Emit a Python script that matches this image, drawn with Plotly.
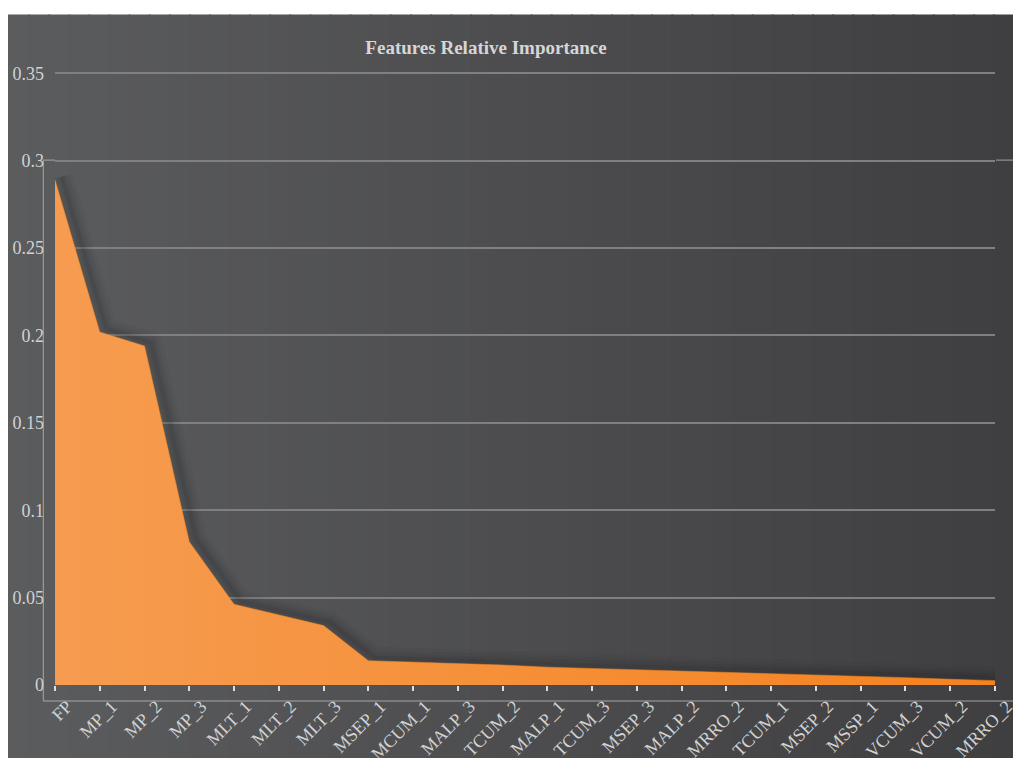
import plotly.graph_objects as go

features = ["FP", "MP_1", "MP_2", "MP_3", "MLT_1", "MLT_2", "MLT_3", "MSEP_1",
            "MCUM_1", "MALP_3", "TCUM_2", "MALP_1", "TCUM_3", "MSEP_3", "MALP_2",
            "MRRO_2", "TCUM_1", "MSEP_2", "MSSP_1", "VCUM_3", "VCUM_2", "MRRO_2"]
importance = [0.289, 0.202, 0.194, 0.0819, 0.0462, 0.0400, 0.0340, 0.0139,
              0.0132, 0.0124, 0.0114, 0.0102, 0.0095, 0.0088, 0.0081,
              0.0074, 0.0066, 0.0058, 0.0050, 0.0042, 0.0033, 0.0025]
y_ticks = [0, 0.05, 0.1, 0.15, 0.2, 0.25, 0.3, 0.35]
y_tick_text = ["0", "0.05", "0.1", "0.15", "0.2", "0.25", "0.3", "0.35"]

W, H = 1013, 758
L, R, B = 55, 995, 685
SCALE = (685 - 73.7) / 0.35
YMAX = 0.353
T = B - SCALE * YMAX
pw, ph = R - L, B - T
NX = len(features) - 1

def px(x):
    return (x - L) / pw

def py(y):
    return (B - y) / ph

idx = list(range(len(features)))

fig = go.Figure()

# soft shadow (drawn on main axes, below the fill which sits on overlay axes)
for w, a in [(22, 0.04), (15, 0.05), (9, 0.07), (4, 0.09)]:
    fig.add_trace(go.Scatter(
        x=idx, y=importance, mode="lines",
        line=dict(color="rgba(25,25,28,%.2f)" % a, width=w), hoverinfo="skip",
        showlegend=False))

fig.add_trace(go.Scatter(
    x=idx, y=importance, mode="lines", fill="tozeroy", xaxis="x2", yaxis="y2",
    line=dict(color="#f5861f", width=0.5),
    fillgradient=dict(type="horizontal",
                      colorscale=[[0, "#f69c50"], [1, "#f5821f"]]),
    showlegend=False))

shapes = []
# background gradient
x0p, x1p = 8, W
n = 50
c0 = (91, 92, 94)
c1 = (63, 62, 64)
for i in range(n):
    t = i / (n - 1)
    c = tuple(int(round(c0[k] + (c1[k] - c0[k]) * t)) for k in range(3))
    xa = x0p + (x1p - x0p) * i / n
    xb = x0p + (x1p - x0p) * (i + 1) / n + 2
    shapes.append(dict(type="rect", xref="paper", yref="paper",
                       x0=px(xa), x1=px(min(xb, W)), y0=py(H), y1=py(15),
                       fillcolor="rgb(%d,%d,%d)" % c, line=dict(width=0),
                       layer="below"))
# offset axis lines
axc = "rgba(175,175,175,0.9)"
shapes.append(dict(type="line", xref="paper", yref="paper",
                   x0=px(43.3), x1=px(43.3), y0=py(160.5), y1=py(701),
                   line=dict(color=axc, width=1)))
shapes.append(dict(type="line", xref="paper", yref="paper",
                   x0=px(43.3), x1=px(1013), y0=py(701), y1=py(701),
                   line=dict(color=axc, width=1)))
shapes.append(dict(type="line", xref="paper", yref="paper",
                   x0=px(43.3), x1=px(55), y0=py(160.5), y1=py(160.5),
                   line=dict(color=axc, width=1)))
shapes.append(dict(type="line", xref="paper", yref="paper",
                   x0=px(996), x1=px(1013), y0=py(160.5), y1=py(160.5),
                   line=dict(color=axc, width=1)))

fig.update_layout(
    width=W, height=H,
    margin=dict(l=L, r=W - R, t=T, b=H - B, pad=0, autoexpand=False),
    paper_bgcolor="white", plot_bgcolor="rgba(0,0,0,0)",
    shapes=shapes,
    title=dict(text="<b>Features Relative Importance</b>", x=px(486), xref="paper",
               xanchor="center", y=1 - 47 / H, yanchor="middle",
               font=dict(family="Liberation Serif", size=19, color="#d6d6d6")),
    xaxis=dict(range=[-0.15, NX - 0.15], showgrid=False, zeroline=False,
               showline=False, ticks="", showticklabels=False, automargin=False),
    yaxis=dict(range=[-0.0017, YMAX - 0.0017], showgrid=False, zeroline=False,
               showline=False, ticks="", showticklabels=False, automargin=False),
    xaxis2=dict(range=[0, NX], overlaying="x", tickmode="array", tickvals=idx,
                ticktext=features, tickangle=-45, showgrid=False, zeroline=False,
                showline=False, ticks="outside", ticklen=5, tickcolor="#dddddd",
                tickwidth=1.5, side="bottom", anchor="y2", automargin=False,
                ticklabelshift=12, ticklabelstandoff=-2, ticklabeloverflow="allow",
                tickfont=dict(family="Liberation Serif", size=18, color="#d2d2d2")),
    yaxis2=dict(range=[0, YMAX], overlaying="y", tickmode="array", tickvals=y_ticks,
                ticktext=y_tick_text, showgrid=True, gridcolor="#808080",
                gridwidth=1.5, zeroline=False, showline=False, ticks="",
                ticklabelstandoff=10, side="left", anchor="x2", automargin=False,
                tickfont=dict(family="Liberation Serif", size=18, color="#d2d2d2")),
)

fig.write_html("out.html")
